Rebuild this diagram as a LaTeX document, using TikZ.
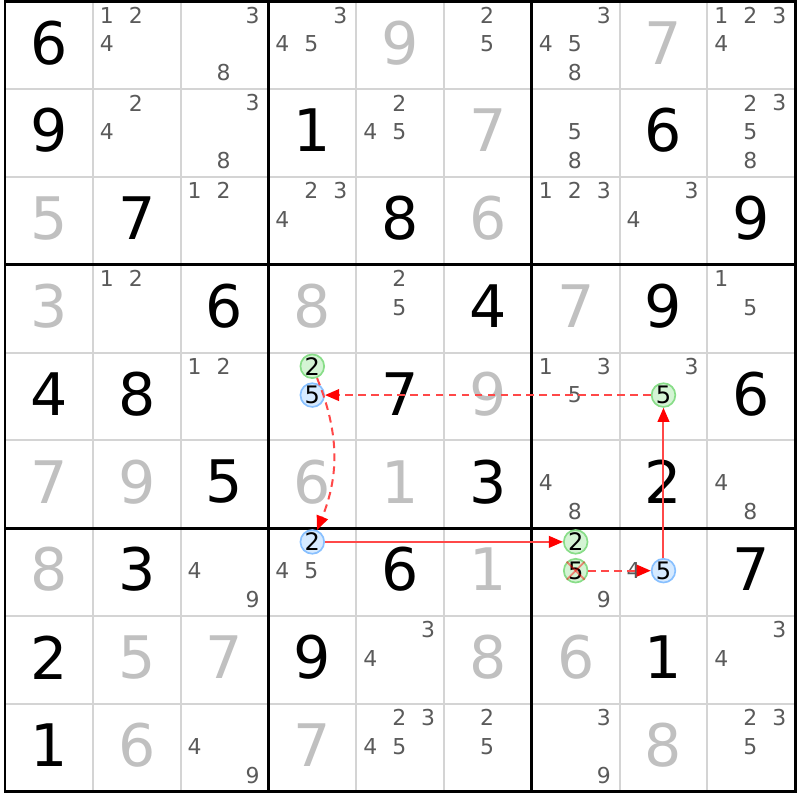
\documentclass[tikz,border=0pt]{standalone}
\usepackage{fontspec}
\setmainfont{DejaVu Sans}
\usetikzlibrary{arrows.meta}

\definecolor{givengray}{HTML}{C0C0C0}
\definecolor{candgray}{HTML}{5A5A5A}
\definecolor{gridgray}{HTML}{D4D4D4}
\definecolor{dotgreen}{HTML}{D4F4D4}
\definecolor{dotgreenline}{HTML}{88DD88}
\definecolor{dotblue}{HTML}{D6EAFF}
\definecolor{dotblueline}{HTML}{88C0FF}
\definecolor{linkred}{HTML}{FF4848}

\begin{document}
\begin{tikzpicture}[x=1cm, y=-1cm,
    thinline/.style = {draw=gridgray, line width=0.65pt},
    thickline/.style = {draw=black, line width=0.95pt},
    placed/.style = {font=\fontsize{19}{19}\selectfont, text=black},
    given/.style = {font=\fontsize{19}{19}\selectfont, text=givengray},
    cand/.style = {font=\fontsize{7.1}{8}\selectfont, text=candgray, inner sep=0pt},
    dot/.style = {circle, line width=0.55pt, minimum size=0.27cm, inner sep=0pt, font=\fontsize{7.8}{8}\selectfont},
    greendot/.style = {dot, draw=dotgreenline, fill=dotgreen},
    bluedot/.style = {dot, draw=dotblueline, fill=dotblue},
    link/.style = {draw=linkred, line width=0.65pt, -{Triangle[length=4.6pt, width=3.8pt, color=red, fill=red]}},
    weak/.style = {dash pattern=on 2.5pt off 1.7pt},
    cross/.style = {draw=red, opacity=0.45, line width=0.6pt}]
    \useasboundingbox (-0.057,-0.017) rectangle (9.055,9.094);
    % grid
    \foreach \i in {1,...,8} {
        \draw[thinline] (\i,0) -- (\i,9);
        \draw[thinline] (0,\i) -- (9,\i);
    }
    \foreach \i in {3,6} {
        \draw[thickline] (\i,0) -- (\i,9);
        \draw[thickline] (0,\i) -- (9,\i);
    }
    \draw[thickline] (0,0) rectangle (9,9);
    % given digits
    \foreach \c/\r/\d in {4/0/9, 7/0/7, 5/1/7, 0/2/5, 5/2/6, 0/3/3, 3/3/8, 6/3/7, 5/4/9,
        0/5/7, 1/5/9, 3/5/6, 4/5/1, 0/6/8, 5/6/1, 1/7/5, 2/7/7, 5/7/8, 6/7/6,
        1/8/6, 3/8/7, 7/8/8}
        \node[given] at (\c+0.5,\r+0.47) {\d};
    % placed digits
    \foreach \c/\r/\d in {0/0/6, 0/1/9, 3/1/1, 7/1/6, 1/2/7, 4/2/8, 8/2/9, 2/3/6, 5/3/4,
        7/3/9, 0/4/4, 1/4/8, 4/4/7, 8/4/6, 2/5/5, 5/5/3, 7/5/2, 1/6/3, 4/6/6,
        8/6/7, 0/7/2, 3/7/9, 7/7/1, 0/8/1}
        \node[placed] at (\c+0.5,\r+0.47) {\d};
    % candidates
    \foreach \c/\r/\l in {1/0/{1,2,4}, 2/0/{3,8}, 3/0/{3,4,5}, 5/0/{2,5}, 6/0/{3,4,5,8},
        8/0/{1,2,3,4}, 1/1/{2,4}, 2/1/{3,8}, 4/1/{2,4,5}, 6/1/{5,8}, 8/1/{2,3,5,8},
        2/2/{1,2}, 3/2/{2,3,4}, 6/2/{1,2,3}, 7/2/{3,4}, 1/3/{1,2}, 4/3/{2,5}, 8/3/{1,5},
        2/4/{1,2}, 6/4/{1,3,5}, 7/4/{3}, 6/5/{4,8}, 8/5/{4,8}, 2/6/{4,9}, 3/6/{4,5},
        6/6/{9}, 7/6/{4}, 4/7/{3,4}, 8/7/{3,4}, 2/8/{4,9}, 4/8/{2,3,4,5}, 5/8/{2,5},
        6/8/{3,9}, 8/8/{2,3,5}}
        \foreach \k in \l
            \node[cand] at ({\c+0.16+0.33*mod(\k-1,3)},{\r+0.155+0.328*floor((\k-1)/3)}) {\k};
    % chain
    \node[greendot] (1) at (3.5,4.155) {2};
    \node[bluedot] (2) at (3.5,4.483) {5};
    \node[greendot] (3) at (7.5,4.483) {5};
    \node[bluedot] (4) at (3.5,6.155) {2};
    \node[greendot] (5) at (6.5,6.155) {2};
    \node[greendot] (6) at (6.5,6.483) {5};
    \node[bluedot] (7) at (7.5,6.483) {5};
    \draw[cross] (6.north west) -- (6.south east);
    \draw[cross] (6.north east) -- (6.south west);
    \draw[link, weak] (3) -- (2);
    \draw[link, weak] (1) to[bend left=22] (4);
    \draw[link] (4) -- (5);
    \draw[link, weak] (6) -- (7);
    \draw[link] (7) -- (3);
\end{tikzpicture}
\end{document}
